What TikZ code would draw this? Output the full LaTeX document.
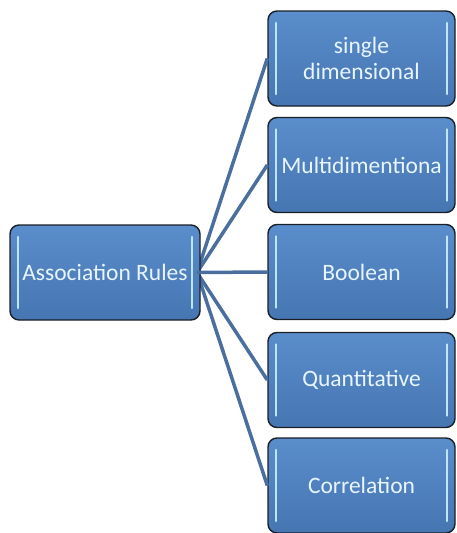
\documentclass[tikz,border=0pt]{standalone}
\usepackage{fontspec}
\setmainfont{Carlito}
\definecolor{boxtop}{HTML}{5A8DCB}
\definecolor{boxbot}{HTML}{4676B2}
\definecolor{edgecol}{HTML}{1A1E26}
\definecolor{linkcol}{HTML}{4A6E9E}
\definecolor{hlcol}{HTML}{BDE6FC}
\definecolor{txtcol}{HTML}{E8F5FF}
\tikzset{
  hl/.style={draw=hlcol, line width=2.6pt, line cap=round},
  blockbox/.style={rectangle, rounded corners=9pt, draw=edgecol, line width=1.4pt,
    top color=boxtop, bottom color=boxbot, text=txtcol,
    font=\fontsize{23.5}{26}\selectfont, align=center, inner sep=0pt,
    path picture={
      \draw[hl] ([xshift=8pt,yshift=-12pt]path picture bounding box.north west) -- ([xshift=8pt,yshift=12pt]path picture bounding box.south west);
      \draw[hl] ([xshift=-8pt,yshift=-12pt]path picture bounding box.north east) -- ([xshift=-8pt,yshift=12pt]path picture bounding box.south east);
    }},
  rightbox/.style={blockbox, minimum width=187pt, minimum height=95pt},
  leftbox/.style={blockbox, minimum width=190pt, minimum height=95pt},
  link/.style={draw=linkcol, line width=3.5pt}
}
\begin{document}
\begin{tikzpicture}[x=1pt,y=-1pt]
\useasboundingbox (0,0) rectangle (457,533);
\coordinate (hub) at (197,272.5);
\node[rightbox] (b1) at (361.5,58.5) {single\\dimensional};
\node[rightbox] (b2) at (361.5,165) {Multidimentiona};
\node[rightbox] (b3) at (361.5,272) {Boolean};
\node[rightbox] (b4) at (361.5,380) {Quantitative};
\node[rightbox] (b5) at (361.5,485.5) {Correlation};
\foreach \b in {b1,b2,b3,b4,b5}{
  \draw[link] (hub) -- (\b.west);
}
\node[leftbox] (a) at (105,272.5) {Association Rules};
\draw[link] (hub) -- (a.east);
\end{tikzpicture}
\end{document}
